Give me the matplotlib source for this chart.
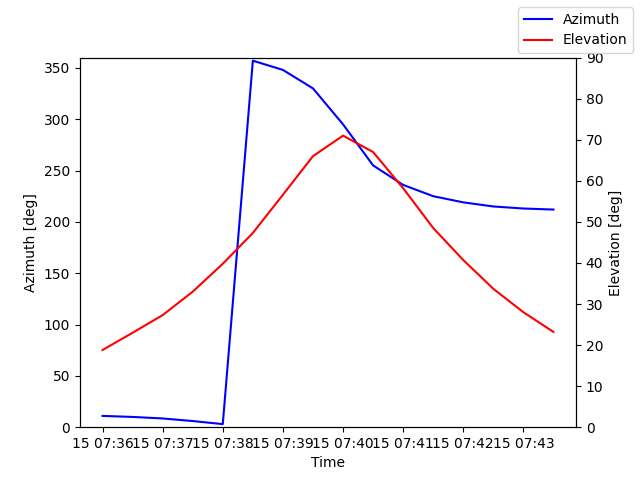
import matplotlib
matplotlib.use("Agg")
import matplotlib.pyplot as plt
import matplotlib.dates as mdates
import pandas as pd

times = pd.date_range("2023-01-15 07:36:00", periods=16, freq="30s")
azimuth = [11, 10, 8.5, 6, 3, 357, 348, 330, 295, 255, 236, 225, 219, 215, 213, 212]
elevation = [18.8, 23, 27.3, 33, 39.8, 47.3, 56.6, 66, 71, 67, 58.2, 48.5, 40.7, 33.7, 28, 23.2]

fig, ax = plt.subplots(figsize=(6.4, 4.8), dpi=100)
l1, = ax.plot(times, azimuth, color="blue", label="Azimuth")
ax.set_ylim(0, 360)
ax.set_ylabel("Azimuth [deg]")
ax.set_xlabel("Time")
ax2 = ax.twinx()
l2, = ax2.plot(times, elevation, color="red", label="Elevation")
ax2.set_ylim(0, 90)
ax2.set_ylabel("Elevation [deg]")
ax.xaxis.set_major_locator(mdates.MinuteLocator())
ax.xaxis.set_major_formatter(mdates.DateFormatter("%d %H:%M"))
fig.legend(handles=[l1, l2], loc="upper right")
fig.savefig("out.png")
